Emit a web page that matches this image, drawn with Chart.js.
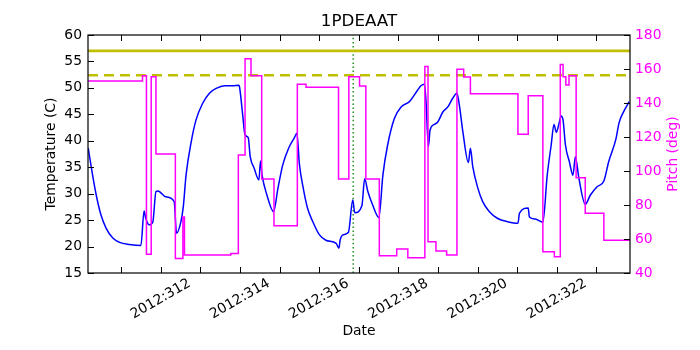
<!DOCTYPE html>
<html>
<head>
<meta charset="utf-8">
<script src="https://cdn.jsdelivr.net/npm/chart.js@4.4.0/dist/chart.umd.min.js"></script>
<style>
    html, body { margin: 0; padding: 0; background: #fff; }
    #wrap { width: 700px; height: 350px; }
</style>
</head>
<body>
<div id="wrap"><canvas id="chart" width="700" height="350"></canvas></div>
<script>
// Date axis (day of year 2012)
const dayMin = 310.164;
const dayMax = 323.85;
const dayTicks = [311, 312, 313, 314, 315, 316, 317, 318, 319, 320, 321, 322, 323];
const dayLabels = [312, 314, 316, 318, 320, 322];

// 1PDEAAT temperature (C)
const tempDays = [310.17, 310.28, 310.37, 310.49, 310.62, 310.79, 310.96, 311.21, 311.50, 311.58,
    311.62, 311.71, 311.80, 311.88, 311.93, 312.13, 312.34, 312.40, 312.51, 312.57,
    312.64, 312.77, 312.89, 313.06, 313.23, 313.40, 313.61, 313.82, 313.97, 313.99,
    314.07, 314.13, 314.21, 314.26, 314.36, 314.48, 314.52, 314.56, 314.68, 314.85,
    314.96, 315.08, 315.23, 315.37, 315.44, 315.50, 315.60, 315.71, 315.84, 316.00,
    316.17, 316.43, 316.50, 316.53, 316.60, 316.74, 316.85, 316.90, 317.08, 317.15,
    317.23, 317.35, 317.51, 317.61, 317.73, 317.90, 318.07, 318.28, 318.49, 318.57,
    318.66, 318.70, 318.76, 318.80, 318.91, 319.00, 319.12, 319.25, 319.37, 319.48,
    319.54, 319.63, 319.77, 319.82, 319.88, 320.01, 320.13, 320.30, 320.51, 320.76,
    321.02, 321.06, 321.28, 321.31, 321.46, 321.65, 321.76, 321.86, 321.93, 321.99,
    322.05, 322.11, 322.16, 322.22, 322.32, 322.41, 322.47, 322.56, 322.72, 322.85,
    323.02, 323.19, 323.31, 323.50, 323.57, 323.69, 323.83];
const tempValues = [38.6, 33.5, 29.8, 26.0, 23.5, 21.6, 20.8, 20.4, 20.2, 26.7,
    25.4, 24.1, 24.6, 30.4, 30.5, 29.4, 28.5, 22.5, 24.7, 27.5,
    33.5, 39.8, 43.9, 47.1, 49.0, 49.9, 50.4, 50.4, 50.5, 50.2,
    44.9, 41.1, 40.6, 37.0, 34.8, 32.6, 36.2, 33.5, 29.8, 26.6,
    31.0, 35.4, 38.6, 40.5, 41.4, 35.7, 31.0, 27.2, 24.7, 22.3,
    21.2, 20.6, 19.7, 21.2, 22.2, 22.7, 28.8, 26.4, 27.7, 32.8,
    30.4, 27.9, 25.5, 33.5, 39.2, 44.2, 46.4, 47.4, 49.6, 50.4,
    50.7, 47.4, 38.9, 42.0, 43.1, 43.6, 45.4, 46.4, 48.0, 49.0,
    46.8, 41.7, 35.9, 38.6, 35.1, 31.0, 28.5, 26.6, 25.3, 24.7,
    24.4, 26.3, 27.3, 25.6, 25.2, 24.6, 33.5, 39.2, 43.1, 41.6,
    43.0, 44.7, 43.9, 39.2, 36.0, 33.5, 37.0, 32.9, 28.0, 29.75,
    31.3, 32.4, 36.0, 40.5, 43.3, 45.5, 47.4];

// Pitch (deg), each value holds until the next day
const pitchDays = [310.16, 311.54, 311.64, 311.76, 311.88, 312.37, 312.56, 312.60, 313.77, 313.96,
    314.13, 314.28, 314.55, 314.86, 315.45, 315.67, 316.49, 316.75, 317.02, 317.18,
    317.52, 317.96, 318.24, 318.67, 318.75, 318.95, 319.22, 319.48, 319.65, 319.82,
    321.02, 321.28, 321.65, 321.94, 322.09, 322.16, 322.23, 322.31, 322.49, 322.72,
    323.19, 323.85];
const pitchValues = [153, 156, 51, 155.5, 110, 48.6, 73, 50.6, 51.4, 109.4,
    166, 156, 95.3, 67.8, 151, 149.2, 95.3, 155.5, 150, 95.3,
    50.2, 54.1, 49, 161.4, 58.4, 52.9, 50.6, 159.8, 155.3, 145.5,
    121.6, 144.3, 52.5, 49.6, 162.7, 155.5, 150.6, 156.1, 96.1, 75.1,
    59.2, 59.2];

// limits and marker
const limitSolid = 57;
const limitDashed = 52.4;
const markerDay = 316.86;

const toXY = (xs, ys) => xs.map((x, i) => ({ x: x, y: ys[i] }));
const FONT = "'DejaVu Sans', 'Liberation Sans', sans-serif";

// frame, inward ticks and all the rotated / axis texts
const decorations = {
    id: "decorations",
    afterDraw(chart) {
        const ctx = chart.ctx;
        const a = chart.chartArea;
        const xs = chart.scales.x, ys = chart.scales.y, ys2 = chart.scales.y2;
        ctx.save();
        ctx.strokeStyle = "#000";
        ctx.lineWidth = 1;
        ctx.beginPath();
        dayTicks.forEach(d => {
            const px = Math.round(xs.getPixelForValue(d)) + 0.5;
            ctx.moveTo(px, a.bottom); ctx.lineTo(px, a.bottom - 6);
            ctx.moveTo(px, a.top); ctx.lineTo(px, a.top + 6);
        });
        ys.ticks.forEach(t => {
            const py = Math.round(ys.getPixelForValue(t.value)) + 0.5;
            ctx.moveTo(a.left, py); ctx.lineTo(a.left + 6, py);
        });
        ys2.ticks.forEach(t => {
            const py = Math.round(ys2.getPixelForValue(t.value)) + 0.5;
            ctx.moveTo(a.right, py); ctx.lineTo(a.right - 6, py);
        });
        ctx.stroke();
        ctx.lineWidth = 1.2;
        ctx.strokeRect(a.left, a.top, a.right - a.left, a.bottom - a.top);

        // date labels, rotated 30 deg and centred on the tick
        ctx.fillStyle = "#000";
        ctx.font = "13.9px " + FONT;
        ctx.textAlign = "center";
        ctx.textBaseline = "middle";
        dayLabels.forEach(d => {
            ctx.save();
            ctx.translate(xs.getPixelForValue(d), a.bottom + 26);
            ctx.rotate(-Math.PI / 6);
            ctx.fillText("2012:" + d, 0, 0);
            ctx.restore();
        });

        const cx = (a.left + a.right) / 2;
        const cy = (a.top + a.bottom) / 2;
        ctx.fillText("Date", cx, a.bottom + 58);

        ctx.save();
        ctx.translate(51, cy);
        ctx.rotate(-Math.PI / 2);
        ctx.fillText("Temperature (C)", 0, 0);
        ctx.restore();

        ctx.save();
        ctx.fillStyle = "#ff00ff";
        ctx.translate(673, cy);
        ctx.rotate(-Math.PI / 2);
        ctx.fillText("Pitch (deg)", 0, 0);
        ctx.restore();

        ctx.font = "16.7px " + FONT;
        ctx.fillText("1PDEAAT", cx, a.top - 13);
        ctx.restore();
    }
};

new Chart(document.querySelector("#chart"), {
    type: "line",
    data: {
        datasets: [
            {
                label: "Pitch",
                data: toXY(pitchDays, pitchValues),
                yAxisID: "y2",
                borderColor: "#ff00ff",
                borderWidth: 1.5,
                stepped: "before",
                pointRadius: 0
            },
            {
                label: "1PDEAAT",
                data: toXY(tempDays, tempValues),
                yAxisID: "y",
                borderColor: "#0000ff",
                borderWidth: 1.5,
                cubicInterpolationMode: "monotone",
                pointRadius: 0
            },
            {
                label: "limit",
                data: toXY([dayMin, dayMax], [limitSolid, limitSolid]),
                yAxisID: "y",
                borderColor: "#bfbf00",
                borderWidth: 2.6,
                pointRadius: 0
            },
            {
                label: "planning limit",
                data: toXY([dayMin, dayMax], [limitDashed, limitDashed]),
                yAxisID: "y",
                borderColor: "#bfbf00",
                borderWidth: 2.6,
                borderDash: [10, 6],
                pointRadius: 0
            },
            {
                label: "now",
                data: toXY([markerDay, markerDay], [15, 60]),
                yAxisID: "y",
                borderColor: "#008000",
                borderWidth: 1.3,
                borderDash: [1.5, 2.6],
                pointRadius: 0
            }
        ]
    },
    options: {
        responsive: false,
        animation: false,
        layout: { padding: { top: 35, left: 0, right: 0, bottom: 0 } },
        plugins: {
            legend: { display: false },
            tooltip: { enabled: false },
            title: { display: false }
        },
        scales: {
            x: {
                type: "linear",
                min: dayMin,
                max: dayMax,
                ticks: { display: false },
                grid: { display: false, drawTicks: false },
                border: { display: false },
                afterFit(s) { s.height = 77; }
            },
            y: {
                position: "left",
                min: 15,
                max: 60,
                ticks: { stepSize: 5, color: "#000", padding: 6, font: { family: FONT, size: 13.9 } },
                grid: { display: false, drawTicks: false },
                border: { display: false },
                afterFit(s) { s.width = 88; }
            },
            y2: {
                position: "right",
                min: 40,
                max: 180,
                ticks: { stepSize: 20, color: "#ff00ff", padding: 5, font: { family: FONT, size: 13.9 } },
                grid: { display: false, drawTicks: false },
                border: { display: false },
                afterFit(s) { s.width = 70; }
            }
        }
    },
    plugins: [decorations]
});
</script>
</body>
</html>
